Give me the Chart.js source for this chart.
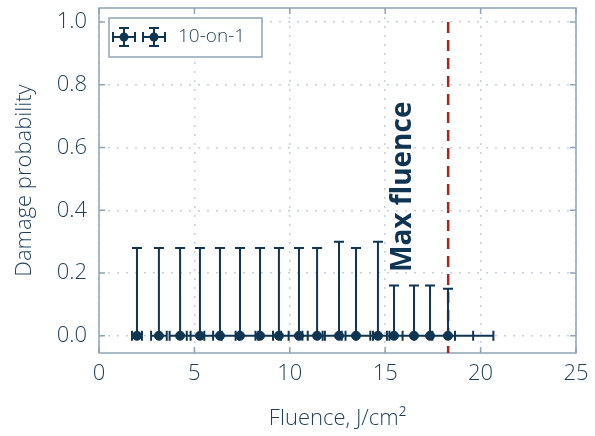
<!DOCTYPE html>
<html>
<head>
<meta charset="utf-8">
<script src="https://cdn.jsdelivr.net/npm/chart.js@4/dist/chart.umd.min.js"></script>
<style>
  html, body { margin: 0; padding: 0; background: #fff; }
  #wrap { width: 595px; height: 436px; }
</style>
</head>
<body>
<div id="wrap"><canvas id="chart" width="595" height="436"></canvas></div>
<script>
// Data
const fluence = [1.99, 3.14, 4.25, 5.29, 6.34, 7.39, 8.44, 9.43, 10.48, 11.43, 12.58, 13.47, 14.62, 15.46, 16.51, 17.35, 18.29];
const probability = [0, 0, 0, 0, 0, 0, 0, 0, 0, 0, 0, 0, 0, 0, 0, 0, 0];
const probUpper = [0.28, 0.28, 0.28, 0.28, 0.28, 0.28, 0.28, 0.28, 0.28, 0.28, 0.30, 0.28, 0.30, 0.16, 0.16, 0.16, 0.15];
const fluenceErr = [0.26, 0.41, 0.55, 0.69, 0.82, 0.96, 1.10, 1.23, 1.36, 1.49, 1.64, 1.75, 1.90, 2.01, 2.15, 2.26, 2.38];
const maxFluence = 18.3;
const xTicks = [0, 5, 10, 15, 20, 25];
const yTicks = [0, 0.2, 0.4, 0.6, 0.8, 1.0];
const seriesLabel = '10-on-1';

const NAVY = '#0f3553';
const TEXT = '#1f3f58';
const FRAME = '#8fa5b5';
const GRID = '#c5d0d8';
const RED = '#b0201c';
const FONT = '"Open Sans", "DejaVu Sans", sans-serif';

// Draws error bars, the max fluence marker, frame, inward ticks and the legend box
const decorations = {
  id: 'decorations',
  beforeDatasetsDraw(chart) {
    const { ctx, chartArea: a, scales: { x, y } } = chart;
    ctx.save();

    // frame
    ctx.strokeStyle = FRAME;
    ctx.lineWidth = 1.5;
    ctx.strokeRect(a.left, a.top, a.right - a.left, a.bottom - a.top);

    // inward ticks
    ctx.beginPath();
    xTicks.forEach(v => {
      const px = x.getPixelForValue(v);
      ctx.moveTo(px, a.bottom); ctx.lineTo(px, a.bottom - 6);
      ctx.moveTo(px, a.top); ctx.lineTo(px, a.top + 6);
    });
    yTicks.forEach(v => {
      const py = y.getPixelForValue(v);
      ctx.moveTo(a.left, py); ctx.lineTo(a.left + 6, py);
      ctx.moveTo(a.right, py); ctx.lineTo(a.right - 6, py);
    });
    ctx.stroke();

    // max fluence dashed line
    ctx.strokeStyle = RED;
    ctx.lineWidth = 2.5;
    ctx.setLineDash([11, 7]);
    ctx.beginPath();
    const mx = x.getPixelForValue(maxFluence);
    ctx.moveTo(mx, y.getPixelForValue(1.0));
    ctx.lineTo(mx, a.bottom);
    ctx.stroke();
    ctx.setLineDash([]);

    // error bars
    ctx.strokeStyle = NAVY;
    ctx.lineWidth = 2;
    ctx.beginPath();
    fluence.forEach((f, i) => {
      const px = x.getPixelForValue(f);
      const py = y.getPixelForValue(probability[i]);
      const top = y.getPixelForValue(probUpper[i]);
      const l = x.getPixelForValue(f - fluenceErr[i]);
      const r = x.getPixelForValue(f + fluenceErr[i]);
      ctx.moveTo(px, py); ctx.lineTo(px, top);
      ctx.moveTo(px - 5, top); ctx.lineTo(px + 5, top);
      ctx.moveTo(l, py); ctx.lineTo(r, py);
      ctx.moveTo(l, py - 5); ctx.lineTo(l, py + 5);
      ctx.moveTo(r, py - 5); ctx.lineTo(r, py + 5);
    });
    ctx.stroke();
    ctx.restore();
  },
  afterDatasetsDraw(chart) {
    const { ctx, scales: { x, y } } = chart;
    ctx.save();

    // rotated "Max fluence" label
    ctx.translate(x.getPixelForValue(15.95), y.getPixelForValue(0.475));
    ctx.rotate(-Math.PI / 2);
    ctx.fillStyle = NAVY;
    ctx.font = 'bold 28px ' + FONT;
    ctx.textAlign = 'center';
    ctx.textBaseline = 'middle';
    ctx.fillText('Max fluence', 0, 0);
    ctx.setTransform(1, 0, 0, 1, 0, 0);

    // legend box
    ctx.fillStyle = '#fff';
    ctx.fillRect(109, 18, 153, 39);
    ctx.strokeStyle = FRAME;
    ctx.lineWidth = 1.5;
    ctx.strokeRect(109, 18, 153, 39);
    ctx.strokeStyle = NAVY;
    ctx.fillStyle = NAVY;
    ctx.lineWidth = 2;
    [124, 154].forEach(cx => {
      const cy = 37;
      ctx.beginPath();
      ctx.moveTo(cx - 11, cy); ctx.lineTo(cx + 11, cy);
      ctx.moveTo(cx - 11, cy - 5); ctx.lineTo(cx - 11, cy + 5);
      ctx.moveTo(cx + 11, cy - 5); ctx.lineTo(cx + 11, cy + 5);
      ctx.moveTo(cx, cy - 9); ctx.lineTo(cx, cy + 9);
      ctx.moveTo(cx - 5, cy - 9); ctx.lineTo(cx + 5, cy - 9);
      ctx.moveTo(cx - 5, cy + 9); ctx.lineTo(cx + 5, cy + 9);
      ctx.stroke();
      ctx.beginPath();
      ctx.arc(cx, cy, 4.5, 0, Math.PI * 2);
      ctx.fill();
    });
    ctx.fillStyle = TEXT;
    ctx.font = '300 19px ' + FONT;
    ctx.textAlign = 'left';
    ctx.textBaseline = 'middle';
    ctx.fillText(seriesLabel, 178, 37);
    ctx.restore();
  }
};

const points = fluence.map((f, i) => ({ x: f, y: probability[i] }));

new Chart(document.getElementById('chart'), {
  type: 'scatter',
  data: {
    datasets: [{
      label: seriesLabel,
      data: points,
      backgroundColor: NAVY,
      borderColor: NAVY,
      pointRadius: 4.5,
      pointHoverRadius: 4.5
    }]
  },
  options: {
    responsive: false,
    animation: false,
    layout: { padding: { top: 8, right: 19, left: 0, bottom: 0 } },
    plugins: {
      legend: { display: false },
      tooltip: { enabled: false }
    },
    scales: {
      x: {
        type: 'linear',
        min: 0,
        max: 25,
        afterBuildTicks: axis => { axis.ticks = xTicks.map(v => ({ value: v })); },
        afterFit: scale => { scale.height = 83; scale.paddingLeft = 0; scale.paddingRight = 0; },
        border: { display: false, dash: [2, 7] },
        grid: { color: GRID, lineWidth: 1.5, drawTicks: false },
        ticks: {
          color: TEXT,
          padding: 8,
          maxRotation: 0,
          font: { family: FONT, size: 22, weight: 300 }
        },
        title: {
          display: true,
          text: 'Fluence, J/cm²',
          color: TEXT,
          padding: { top: 6 },
          font: { family: FONT, size: 22, weight: 300 }
        }
      },
      y: {
        type: 'linear',
        min: -0.055,
        max: 1.045,
        afterBuildTicks: axis => { axis.ticks = yTicks.map(v => ({ value: v })); },
        afterFit: scale => { scale.width = 99; scale.paddingTop = 0; scale.paddingBottom = 0; },
        border: { display: false, dash: [2, 7] },
        grid: { color: GRID, lineWidth: 1.5, drawTicks: false },
        ticks: {
          color: TEXT,
          padding: 12,
          callback: v => v.toFixed(1),
          font: { family: FONT, size: 22, weight: 300 }
        },
        title: {
          display: true,
          text: 'Damage probability',
          color: TEXT,
          padding: { top: 12, bottom: 4 },
          font: { family: FONT, size: 22, weight: 300 }
        }
      }
    }
  },
  plugins: [decorations]
});
</script>
</body>
</html>
